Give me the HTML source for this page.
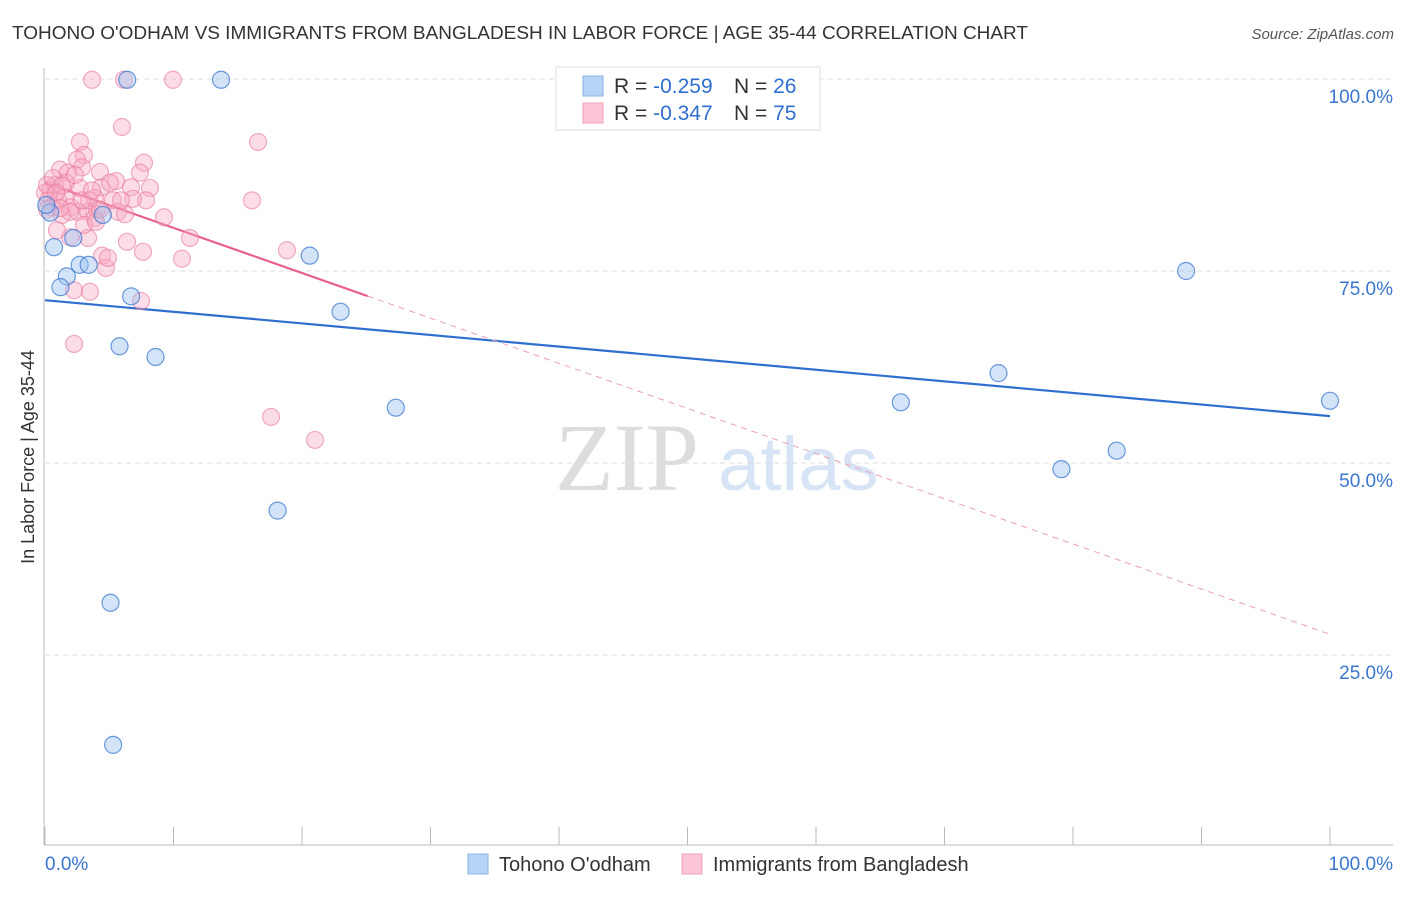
<!DOCTYPE html>
<html><head><meta charset="utf-8"><style>
body{margin:0;background:#fff;font-family:"Liberation Sans",sans-serif;}
svg text{font-family:"Liberation Sans",sans-serif;}
</style></head><body>
<svg id="c" width="1406" height="892" xmlns="http://www.w3.org/2000/svg">
<text x="12" y="39" font-size="18" fill="#333" textLength="1016" lengthAdjust="spacingAndGlyphs">TOHONO O'ODHAM VS IMMIGRANTS FROM BANGLADESH IN LABOR FORCE | AGE 35-44 CORRELATION CHART</text>
<text x="1394" y="39" font-size="15" fill="#555" font-style="italic" text-anchor="end">Source: ZipAtlas.com</text>
<text x="34" y="457" font-size="18" fill="#333" text-anchor="middle" transform="rotate(-90 34 457)">In Labor Force | Age 35-44</text>
<g>
<text x="555" y="490" font-size="96" fill="#ddd" font-family="Liberation Serif" style="font-family:'Liberation Serif',serif">ZIP</text>
<text x="718" y="490" font-size="76" fill="#d6e4f5">atlas</text>
</g>
<g id="grid"></g><g id="axes"></g><g id="trend"></g><g id="pts"></g>
<g>
<rect x="556" y="67" width="264" height="63" fill="#fff" stroke="#ddd"/>
<rect x="583" y="76" width="20" height="20" fill="#b7d3f5" stroke="#8ab4e8"/>
<text x="614" y="93" font-size="21" fill="#333">R = <tspan fill="#2f6fd0">-0.259</tspan></text>
<text x="734" y="93" font-size="21" fill="#333">N = <tspan fill="#2f6fd0">26</tspan></text>
<rect x="583" y="103" width="20" height="20" fill="#fcc6d6" stroke="#f0a0b8"/>
<text x="614" y="120" font-size="21" fill="#333">R = <tspan fill="#2f6fd0">-0.347</tspan></text>
<text x="734" y="120" font-size="21" fill="#333">N = <tspan fill="#2f6fd0">75</tspan></text>
</g>
<g>
<rect x="468" y="854" width="20" height="20" fill="#b7d3f5" stroke="#8ab4e8"/>
<text x="499" y="871" font-size="20" fill="#333">Tohono O'odham</text>
<rect x="682" y="854" width="20" height="20" fill="#fcc6d6" stroke="#f0a0b8"/>
<text x="713" y="871" font-size="20" fill="#333">Immigrants from Bangladesh</text>
</g>
</svg>
<script>
const yTicks=[25,50,75,100];
const yTickLabels=["25.0%","50.0%","75.0%","100.0%"];
const xTickLabels=["0.0%","100.0%"];
const blueX=[6.4,13.7,0.4,0.7,2.2,1.7,1.2,2.7,3.4,4.5,6.7,5.8,8.6,20.6,23.0,27.3,18.1,5.1,5.3,66.6,74.2,79.1,83.4,88.8,100,0.1];
const blueY=[99.9,99.9,82.6,78.1,79.3,74.3,72.9,75.8,75.8,82.3,71.7,65.2,63.8,77.0,69.7,57.2,43.8,31.8,13.3,57.9,61.7,49.2,51.6,75.0,58.1,83.6];
const pinkX=[3.66,6.15,9.96,5.99,16.58,2.72,3.03,2.49,1.17,2.88,4.28,7.70,5.53,6.69,8.17,7.86,4.36,1.79,0.78,0.39,0.23,0.54,1.01,1.56,2.02,2.57,3.35,3.89,4.05,5.29,5.68,6.23,6.85,9.26,6.38,11.28,10.66,16.11,18.83,4.44,4.75,3.35,1.95,2.26,3.50,7.47,2.26,17.59,21.01,1.32,3.03,3.97,5.06,0.93,0,0.16,0.62,1.63,1.95,2.72,3.89,3.42,7.63,7.39,4.28,1.32,2.33,0.86,4.90,2.88,5.91,0.16,3.66,1.17];
const pinkY=[99.9,99.9,99.9,93.75,91.8,91.8,90.1,89.5,88.2,88.5,87.9,89.1,86.7,85.9,85.8,84.2,85.9,87.8,86.2,85.5,84.2,83.3,84.2,84.6,83.3,82.7,82.7,81.9,83.0,84.2,82.7,82.4,84.4,82.0,78.8,79.3,76.6,84.2,77.7,77.0,75.4,79.3,79.4,72.5,72.3,71.1,65.5,56.0,53.0,82.3,81.0,81.4,86.5,80.3,85.2,86.2,87.1,86.5,82.7,85.8,84.5,84.2,77.5,87.8,83.0,86.1,87.5,85.2,76.7,84.2,84.2,83.0,85.5,83.2];
const blueTrend=[71.2,56.1];
const pinkTrend=[86.5,27.7];
const pinkSolidEnd=25.1;
const NS="http://www.w3.org/2000/svg";
const X=v=>45+v*12.85, Y=v=>847-v*7.68;
function mk(t,a,p){const e=document.createElementNS(NS,t);for(const k in a)e.setAttribute(k,a[k]);document.getElementById(p).appendChild(e);return e;}
yTicks.forEach((t,i)=>{
 const l=mk('line',{x1:45,x2:1393,y1:Y(t),y2:Y(t),stroke:'#ddd','stroke-dasharray':'5,4'},'grid');
 
 
 const tx=mk('text',{x:1393,y:Y(t)+24,'font-size':19,fill:'#3a75d0','text-anchor':'end'},'grid');
 tx.textContent=yTickLabels[i];
 
 
});
const ax=mk('line',{x1:44,x2:44,y1:68,y2:845,stroke:'#bbb'},'axes');


const bx=mk('line',{x1:44,x2:1393,y1:845,y2:845,stroke:'#bbb'},'axes');


for(let i=0;i<=10;i++){const t=mk('line',{x1:X(i*10),x2:X(i*10),y1:827,y2:845,stroke:'#bbb'},'axes');
 
 }
[[0,'start',45],[1,'end',1393]].forEach(([i,a,x])=>{const t=mk('text',{x:x,y:870,'font-size':19,fill:'#3a75d0','text-anchor':a},'axes');t.textContent=xTickLabels[i];
 
 });
const pAt=v=>pinkTrend[0]+(pinkTrend[1]-pinkTrend[0])*v/100;
let l=mk('line',{x1:X(0),y1:Y(blueTrend[0]),x2:X(100),y2:Y(blueTrend[1]),stroke:'#2f6fd0','stroke-width':2.2},'trend');


l=mk('line',{x1:X(0),y1:Y(pAt(0)),x2:X(pinkSolidEnd),y2:Y(pAt(pinkSolidEnd)),stroke:'#e8608a','stroke-width':2.2},'trend');


l=mk('line',{x1:X(pinkSolidEnd),y1:Y(pAt(pinkSolidEnd)),x2:X(100),y2:Y(pAt(100)),stroke:'#e8a0b8','stroke-width':1,'stroke-dasharray':'6,5'},'trend');


pinkX.forEach((v,i)=>{const c=mk('circle',{cx:X(v),cy:Y(pinkY[i]),r:8.5,fill:'rgba(248,170,195,0.4)',stroke:'rgba(232,120,155,0.6)','stroke-width':1.2},'pts');
 
 });
blueX.forEach((v,i)=>{const c=mk('circle',{cx:X(v),cy:Y(blueY[i]),r:8.5,fill:'rgba(160,195,240,0.45)',stroke:'rgba(60,120,210,0.75)','stroke-width':1.2},'pts');
 
 });
</script>
</body></html>
